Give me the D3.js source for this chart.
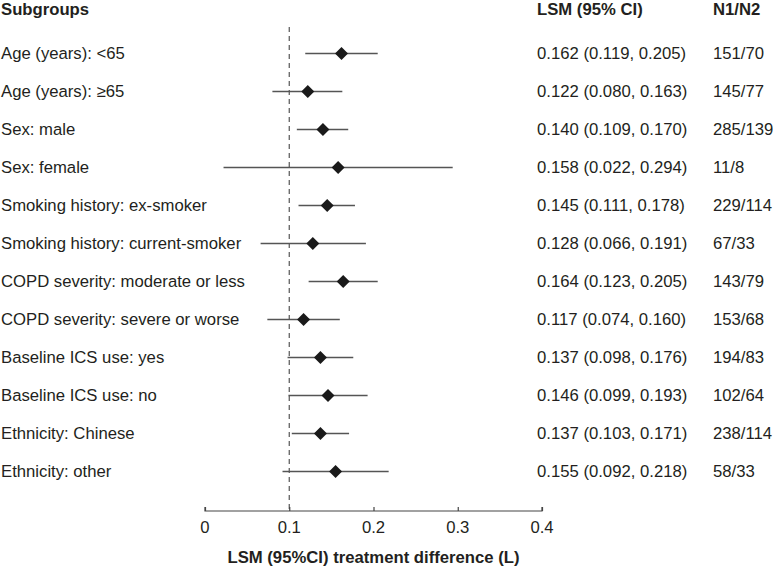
<!DOCTYPE html>
<html><head><meta charset="utf-8">
<script src="https://cdn.jsdelivr.net/npm/d3@7"></script>
<style>body{margin:0;background:#fff}svg{display:block}text{font-family:"Liberation Sans",Arial,Helvetica,sans-serif;fill:#231f20}</style>
</head><body><svg id="c" width="773" height="567"></svg>
<script>
const subgroups = ["Age (years): <65","Age (years): \u226565","Sex: male","Sex: female","Smoking history: ex-smoker","Smoking history: current-smoker","COPD severity: moderate or less","COPD severity: severe or worse","Baseline ICS use: yes","Baseline ICS use: no","Ethnicity: Chinese","Ethnicity: other"];
const lsm   = [0.162,0.122,0.140,0.158,0.145,0.128,0.164,0.117,0.137,0.146,0.137,0.155];
const lower = [0.119,0.080,0.109,0.022,0.111,0.066,0.123,0.074,0.098,0.099,0.103,0.092];
const upper = [0.205,0.163,0.170,0.294,0.178,0.191,0.205,0.160,0.176,0.193,0.171,0.218];
const n1n2  = ["151/70","145/77","285/139","11/8","229/114","67/33","143/79","153/68","194/83","102/64","238/114","58/33"];
const xTicks = [0,0.1,0.2,0.3,0.4];
const refLine = 0.1;

const FS = 16.7;
const svg = d3.select("#c");
const x = d3.scaleLinear().domain([0,0.4]).range([205,542]);
const y = d3.scaleBand().domain(d3.range(subgroups.length)).range([34.5,490.5]);
const yc = i => y(i) + y.bandwidth()/2;
const axisY = 511;

const fmt = d3.format(".3f");

// headers
svg.append("text").attr("x",1).attr("y",9).attr("dy","0.35em").attr("font-size",FS).attr("font-weight","bold").text("Subgroups");
svg.append("text").attr("x",537).attr("y",9).attr("dy","0.35em").attr("font-size",FS).attr("font-weight","bold").text("LSM (95% CI)");
svg.append("text").attr("x",713).attr("y",9).attr("dy","0.35em").attr("font-size",FS).attr("font-weight","bold").text("N1/N2");

// reference dashed line
svg.append("line").attr("x1",x(refLine)).attr("x2",x(refLine)).attr("y1",27).attr("y2",axisY)
  .attr("stroke","#555").attr("stroke-width",1.2).attr("stroke-dasharray","5,4");

const rows = svg.append("g").selectAll("g").data(subgroups).join("g");
rows.append("text").attr("x",1).attr("y",(d,i)=>yc(i)).attr("dy","0.35em").attr("font-size",FS).text(d=>d);
rows.append("line").attr("x1",(d,i)=>x(lower[i])).attr("x2",(d,i)=>x(upper[i]))
  .attr("y1",(d,i)=>yc(i)).attr("y2",(d,i)=>yc(i)).attr("stroke","#555").attr("stroke-width",1.3);
rows.append("path").attr("transform",(d,i)=>`translate(${x(lsm[i])},${yc(i)})`)
  .attr("d","M0,-6.5L6.5,0L0,6.5L-6.5,0Z").attr("fill","#1a1a1a");
rows.append("text").attr("x",537).attr("y",(d,i)=>yc(i)).attr("dy","0.35em").attr("font-size",FS)
  .text((d,i)=>`${fmt(lsm[i])} (${fmt(lower[i])}, ${fmt(upper[i])})`);
rows.append("text").attr("x",713).attr("y",(d,i)=>yc(i)).attr("dy","0.35em").attr("font-size",FS).text((d,i)=>n1n2[i]);

// axis
const ax = svg.append("g").attr("transform",`translate(0,${axisY})`)
  .call(d3.axisTop(x).tickValues(xTicks).tickSize(4).tickFormat(d=>d===0?"0":d3.format(".1f")(d)));
ax.select(".domain").attr("stroke","#444").attr("stroke-width",1.2).attr("d",`M${x(0)},-4V0H${x(0.4)}V-4`);
ax.selectAll(".tick line").attr("stroke","#444").attr("stroke-width",1.2);
ax.selectAll(".tick text").remove();
svg.append("g").selectAll("text").data(xTicks).join("text")
  .attr("x",d=>x(d)).attr("y",axisY+16).attr("dy","0.35em").attr("text-anchor","middle").attr("font-size",FS)
  .text(d=>d===0?"0":d3.format(".1f")(d));
svg.append("text").attr("x",(x(0)+x(0.4))/2).attr("y",557).attr("dy","0.35em").attr("text-anchor","middle")
  .attr("font-size",FS).attr("font-weight","bold").text("LSM (95%CI) treatment difference (L)");
</script></body></html>
